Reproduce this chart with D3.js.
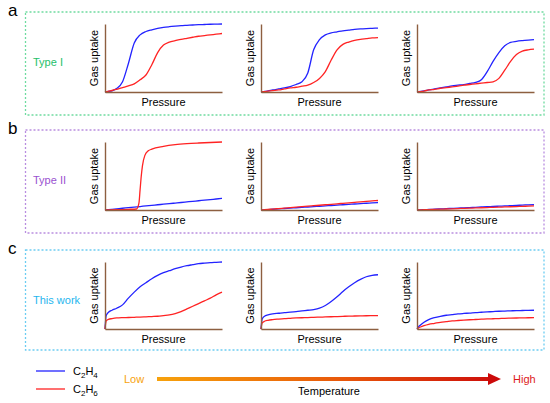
<!DOCTYPE html>
<meta charset="utf-8">
<html>
    <head>
        <script src="https://d3js.org/d3.v7.min.js"></script>
    </head>
    <style>
        body { margin: 0; background: #fff; }
        text { font-family: "Liberation Sans", Arial, sans-serif; }
    </style>
    <body>
        <div id="viz"></div>
        <script>

            // shared pressure grid (relative, 0..1)
            var pressure = [0, .01, .03, .06, .1, .15, .2, .25, .3, .35, .4, .45, .5, .55, .6, .65, .7, .75, .8, .85, .9, .95, 1];
            // finer grid for the gate-opening step of type II
            var pressureStep = [0, .1, .2, .27, .29, .3, .31, .32, .34, .37, .4, .5, .6, .7, .8, .9, 1];

            // row a - Type I
            var a1C2H4 = [0, .003, .008, .018, .05, .15, .42, .72, .84, .89, .915, .935, .95, .96, .968, .975, .98, .985, .99, .993, .996, .998, 1];
            var a1C2H6 = [0, .005, .012, .022, .04, .065, .09, .12, .18, .25, .4, .58, .69, .735, .755, .775, .79, .805, .82, .83, .84, .85, .86];
            var a2C2H4 = [0, .003, .008, .015, .03, .045, .06, .08, .11, .15, .28, .62, .77, .84, .87, .885, .9, .91, .92, .927, .932, .936, .94];
            var a2C2H6 = [0, .002, .006, .012, .02, .03, .045, .06, .07, .085, .1, .14, .2, .3, .47, .62, .7, .735, .76, .775, .785, .795, .8];
            var a3C2H4 = [0, .003, .009, .017, .03, .045, .06, .075, .09, .1, .11, .125, .14, .18, .3, .45, .58, .68, .73, .745, .755, .763, .77];
            var a3C2H6 = [0, .002, .007, .014, .03, .04, .055, .065, .075, .085, .1, .11, .12, .13, .14, .15, .2, .32, .45, .55, .6, .62, .63];

            // row b - Type II
            var b1C2H4 = [0, .002, .005, .01, .017, .026, .034, .043, .051, .06, .068, .077, .085, .094, .102, .11, .119, .128, .136, .145, .153, .162, .17];
            var b1C2H6 = [0, .005, .01, .015, .1, .3, .5, .65, .8, .87, .895, .935, .96, .975, .985, .993, 1];
            var b2C2H4 = [0, .001, .003, .007, .011, .017, .022, .028, .033, .039, .044, .05, .055, .061, .066, .072, .077, .083, .088, .094, .099, .105, .11];
            var b2C2H6 = [0, .0015, .004, .008, .014, .021, .028, .035, .042, .049, .056, .063, .07, .077, .084, .091, .098, .105, .112, .119, .126, .133, .14];
            var b3C2H4 = [0, .001, .002, .005, .008, .012, .016, .02, .024, .028, .032, .036, .04, .044, .048, .052, .056, .06, .064, .068, .072, .076, .08];
            var b3C2H6 = [0, .001, .002, .004, .006, .009, .012, .015, .018, .021, .024, .027, .03, .033, .036, .039, .042, .045, .048, .051, .054, .057, .06];

            // row c - This work
            var c1C2H4 = [0, .2, .25, .28, .31, .36, .46, .55, .63, .69, .75, .8, .84, .87, .9, .925, .945, .96, .975, .983, .99, .995, 1];
            var c1C2H6 = [0, .12, .145, .155, .165, .17, .172, .175, .178, .182, .186, .19, .2, .21, .23, .26, .3, .34, .38, .42, .46, .51, .55];
            var c2C2H4 = [0, .15, .19, .21, .225, .235, .245, .252, .26, .27, .28, .29, .31, .35, .41, .48, .56, .63, .69, .74, .78, .8, .81];
            var c2C2H6 = [0, .09, .115, .13, .14, .148, .155, .16, .165, .168, .17, .174, .177, .18, .183, .186, .189, .192, .194, .196, .198, .199, .2];
            var c3C2H4 = [0, .025, .06, .1, .14, .17, .19, .205, .215, .225, .232, .238, .245, .25, .255, .26, .265, .268, .271, .274, .276, .278, .28];
            var c3C2H6 = [0, .012, .03, .05, .07, .085, .1, .11, .12, .127, .133, .138, .142, .146, .15, .153, .156, .16, .162, .164, .166, .168, .17];

            var panelLetters = ["a", "b", "c"];
            var typeLabels = ["Type I", "Type II", "This work"];
            var gasNames = ["C2H4", "C2H6"];
            var tempLabels = ["Low", "High"];

            var rows = [
                [[a1C2H4, a1C2H6], [a2C2H4, a2C2H6], [a3C2H4, a3C2H6]],
                [[b1C2H4, b1C2H6], [b2C2H4, b2C2H6], [b3C2H4, b3C2H6]],
                [[c1C2H4, c1C2H6], [c2C2H4, c2C2H6], [c3C2H4, c3C2H6]]
            ];

            // layout
            var width = 550, height = 403;
            var boxes = [[12, 115], [130, 233], [250, 350]];
            var axisTop = [24, 142, 262], axisBottom = [92, 210, 329];
            var plotLeft = [105, 261, 417], plotW = 117;
            var boxColor = ["#6fdba0", "#b98ee0", "#6dcdf2"];
            var textColor = ["#25c06a", "#9a52d0", "#1fb6ee"];
            var gasColor = ["#2323ff", "#ff2323"];
            var axisColor = "#8d5f40";

            var svg = d3.select("#viz").append("svg")
                .attr("width", width)
                .attr("height", height)
                .attr("viewBox", [0, 0, width, height]);

            rows.forEach(function(row, r) {
                var g = svg.append("g");

                g.append("rect")
                    .attr("x", 25.5).attr("y", boxes[r][0])
                    .attr("width", 518.5).attr("height", boxes[r][1] - boxes[r][0])
                    .attr("fill", "none")
                    .attr("stroke", boxColor[r])
                    .attr("stroke-width", 1.3)
                    .attr("stroke-dasharray", "2,2");

                g.append("text")
                    .attr("x", 8).attr("y", boxes[r][0] + 4)
                    .attr("font-size", 17)
                    .text(panelLetters[r]);

                g.append("text")
                    .attr("x", 33).attr("y", (axisTop[r] + axisBottom[r]) / 2 + 8)
                    .attr("font-size", 11)
                    .attr("fill", textColor[r])
                    .text(typeLabels[r]);

                row.forEach(function(series, k) {
                    var x = d3.scaleLinear([0, 1], [plotLeft[k], plotLeft[k] + plotW]);
                    var y = d3.scaleLinear([0, 1], [axisBottom[r], axisTop[r]]);

                    series.forEach(function(vals, s) {
                        var ps = vals.length === pressure.length ? pressure : pressureStep;
                        var line = d3.line()
                            .x(function(d, i) { return x(ps[i]); })
                            .y(function(d) { return y(d); })
                            .curve(d3.curveMonotoneX);
                        g.append("path")
                            .datum(vals)
                            .attr("fill", "none")
                            .attr("stroke", gasColor[s])
                            .attr("stroke-width", 1.3)
                            .attr("d", line);
                    });

                    // bare axes, no ticks
                    g.append("g")
                        .attr("transform", `translate(0,${axisBottom[r]})`)
                        .call(d3.axisBottom(x).tickValues([]).tickSizeOuter(0))
                        .call(a => a.select(".domain").attr("stroke", axisColor).attr("stroke-width", 1.4));
                    g.append("g")
                        .attr("transform", `translate(${plotLeft[k]},0)`)
                        .call(d3.axisLeft(y).tickValues([]).tickSizeOuter(0))
                        .call(a => a.select(".domain").attr("stroke", axisColor).attr("stroke-width", 1.4));

                    g.append("text")
                        .attr("x", plotLeft[k] + plotW / 2).attr("y", axisBottom[r] + 14)
                        .attr("text-anchor", "middle")
                        .attr("font-size", 11)
                        .text("Pressure");

                    g.append("text")
                        .attr("transform", `translate(${plotLeft[k] - 7},${(axisTop[r] + axisBottom[r]) / 2}) rotate(-90)`)
                        .attr("text-anchor", "middle")
                        .attr("font-size", 11)
                        .text("Gas uptake");
                });
            });

            // legend
            var legend = svg.append("g");
            gasNames.forEach(function(name, i) {
                var ly = 371 + i * 18;
                legend.append("line")
                    .attr("x1", 36).attr("x2", 65)
                    .attr("y1", ly).attr("y2", ly)
                    .attr("stroke", gasColor[i])
                    .attr("stroke-width", 1.3);
                var t = legend.append("text")
                    .attr("x", 73).attr("y", ly + 4)
                    .attr("font-size", 11);
                t.append("tspan").text(name[0]);
                t.append("tspan").attr("font-size", 8).attr("dy", 3).text(name[1]);
                t.append("tspan").attr("dy", -3).text(name[2]);
                t.append("tspan").attr("font-size", 8).attr("dy", 3).text(name[3]);
            });

            // temperature arrow
            var defs = svg.append("defs");
            var grad = defs.append("linearGradient")
                .attr("id", "tempGrad")
                .attr("gradientUnits", "userSpaceOnUse")
                .attr("x1", 157).attr("x2", 501).attr("y1", 0).attr("y2", 0);
            grad.append("stop").attr("offset", "0%").attr("stop-color", "#f7a20c");
            grad.append("stop").attr("offset", "55%").attr("stop-color", "#e8560a");
            grad.append("stop").attr("offset", "100%").attr("stop-color", "#cc0a0a");

            svg.append("rect")
                .attr("x", 157).attr("y", 377)
                .attr("width", 333).attr("height", 4)
                .attr("fill", "url(#tempGrad)");
            svg.append("path")
                .attr("d", "M488,373 L501,379 L488,385 Z")
                .attr("fill", "#cc0a0a");

            svg.append("text")
                .attr("x", 124).attr("y", 383)
                .attr("font-size", 11)
                .attr("fill", "#f7a20c")
                .text(tempLabels[0]);
            svg.append("text")
                .attr("x", 513).attr("y", 383)
                .attr("font-size", 11)
                .attr("fill", "#dd1a1a")
                .text(tempLabels[1]);
            svg.append("text")
                .attr("x", 329).attr("y", 395)
                .attr("text-anchor", "middle")
                .attr("font-size", 11)
                .text("Temperature");

        </script>
    </body>
</html>
